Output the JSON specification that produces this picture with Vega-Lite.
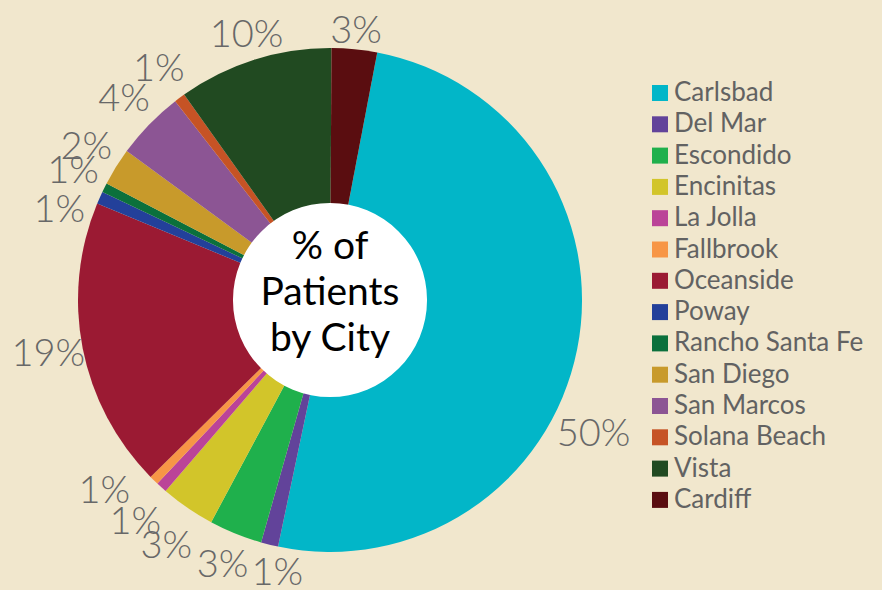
{
  "$schema": "https://vega.github.io/schema/vega-lite/v6.json",
  "width": 660,
  "height": 580,
  "autosize": {"type": "none"},
  "padding": {"left": 0, "top": 10, "right": 222, "bottom": 0},
  "background": "#f1e7cd",
  "config": {
    "view": {"stroke": null},
    "text": {"font": "Lato", "fontSize": 38, "fontWeight": 300, "fill": "#686868", "align": "center", "baseline": "middle"}
  },
  "data": {
    "values": [
      {"ord": 1, "city": "Carlsbad", "share": 0.502},
      {"ord": 2, "city": "Del Mar", "share": 0.011},
      {"ord": 3, "city": "Escondido", "share": 0.034},
      {"ord": 4, "city": "Encinitas", "share": 0.0349},
      {"ord": 5, "city": "La Jolla", "share": 0.007},
      {"ord": 6, "city": "Fallbrook", "share": 0.006},
      {"ord": 7, "city": "Oceanside", "share": 0.186},
      {"ord": 8, "city": "Poway", "share": 0.008},
      {"ord": 9, "city": "Rancho Santa Fe", "share": 0.006},
      {"ord": 10, "city": "San Diego", "share": 0.024},
      {"ord": 11, "city": "San Marcos", "share": 0.044},
      {"ord": 12, "city": "Solana Beach", "share": 0.007},
      {"ord": 13, "city": "Vista", "share": 0.099},
      {"ord": 14, "city": "Cardiff", "share": 0.029}
    ]
  },
  "layer": [
    {
      "mark": {"type": "arc", "outerRadius": 252},
      "encoding": {
        "theta": {"field": "share", "type": "quantitative", "stack": true, "scale": {"range": [0.1885, 6.4717]}},
        "order": {"field": "ord", "type": "quantitative"},
        "color": {
          "field": "city",
          "type": "nominal",
          "scale": {
            "domain": ["Carlsbad", "Del Mar", "Escondido", "Encinitas", "La Jolla", "Fallbrook", "Oceanside", "Poway", "Rancho Santa Fe", "San Diego", "San Marcos", "Solana Beach", "Vista", "Cardiff"],
            "range": ["#02b6c8", "#62439a", "#1fb04c", "#d2c52a", "#bb4398", "#f79646", "#9b1a33", "#23409a", "#0b703c", "#c89a2b", "#8c5594", "#c65325", "#214a21", "#5a0d10"]
          },
          "legend": {
            "orient": "none",
            "legendX": 647,
            "legendY": 70,
            "title": null,
            "symbolType": "square",
            "symbolSize": 256,
            "symbolStrokeWidth": 0,
            "labelFont": "Lato",
            "labelFontSize": 26,
            "labelColor": "#626262",
            "rowPadding": 5.3,
            "labelOffset": 1,
            "padding": 0,
            "labelLimit": 300
          }
        }
      }
    },
    {
      "data": {"values": [{"k": 1}]},
      "mark": {"type": "arc", "theta": 0, "theta2": 6.2832, "outerRadius": 97, "fill": "white"},
      "encoding": {}
    },
    {
      "data": {"values": [{"k": 1}]},
      "mark": {"type": "text", "text": ["% of", "Patients", "by City"], "font": "Lato", "fontSize": 39, "fontWeight": 400, "lineHeight": 46, "fill": "black", "align": "center", "baseline": "middle", "dy": -53},
      "encoding": {}
    },
    {
      "encoding": {
        "theta": {"field": "share", "type": "quantitative", "stack": true},
        "order": {"field": "ord", "type": "quantitative"}
      },
      "layer": [
        {
          "mark": {"type": "text", "radius": 287},
          "encoding": {"text": {"field": "share", "type": "quantitative", "format": ".0%", "condition": {"test": "indexof(['Solana Beach','San Marcos','San Diego','Rancho Santa Fe','Oceanside','Escondido'], datum.city) < 0", "value": ""}}}
        },
        {
          "mark": {"type": "text", "radius": 269},
          "encoding": {"text": {"field": "share", "type": "quantitative", "format": ".0%", "condition": {"test": "datum.city !== 'Cardiff'", "value": ""}}}
        },
        {
          "mark": {"type": "text", "radius": 277},
          "encoding": {"text": {"field": "share", "type": "quantitative", "format": ".0%", "condition": {"test": "datum.city !== 'Vista'", "value": ""}}}
        },
        {
          "mark": {"type": "text", "radius": 296, "thetaOffset": -0.015},
          "encoding": {"text": {"field": "share", "type": "quantitative", "format": ".0%", "condition": {"test": "datum.city !== 'La Jolla' && datum.city !== 'Encinitas'", "value": ""}}}
        },
        {
          "mark": {"type": "text", "radius": 296, "thetaOffset": 0.093},
          "encoding": {"text": {"field": "share", "type": "quantitative", "format": ".0%", "condition": {"test": "datum.city !== 'Fallbrook'", "value": ""}}}
        },
        {
          "mark": {"type": "text", "radius": 285, "thetaOffset": -0.101},
          "encoding": {"text": {"field": "share", "type": "quantitative", "format": ".0%", "condition": {"test": "datum.city !== 'Poway'", "value": ""}}}
        },
        {
          "mark": {"type": "text", "radius": 279, "thetaOffset": -0.052},
          "encoding": {"text": {"field": "share", "type": "quantitative", "format": ".0%", "condition": {"test": "datum.city !== 'Del Mar'", "value": ""}}}
        },
        {
          "mark": {"type": "text", "radius": 296, "thetaOffset": 0.275},
          "encoding": {"text": {"field": "share", "type": "quantitative", "format": ".0%", "condition": {"test": "datum.city !== 'Carlsbad'", "value": ""}}}
        }
      ]
    }
  ]
}
